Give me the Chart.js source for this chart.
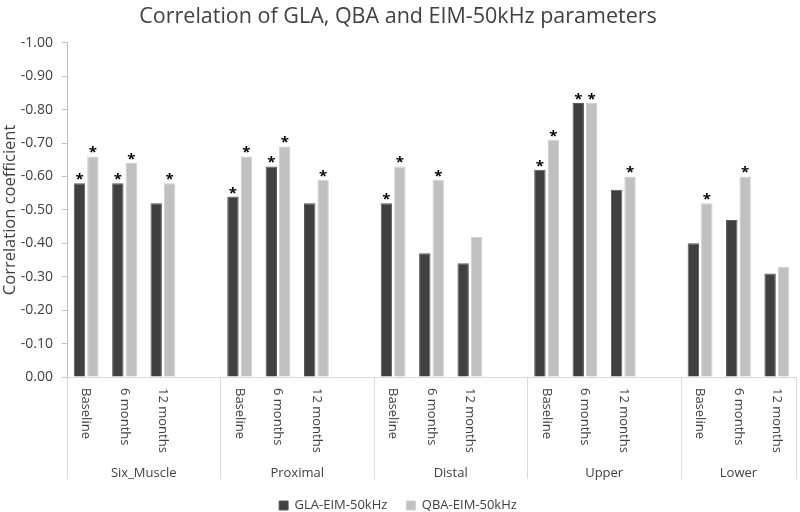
<!DOCTYPE html>
<html>
<head>
<meta charset="utf-8">
<script src="https://cdn.jsdelivr.net/npm/chart.js@4.4.1/dist/chart.umd.min.js"></script>
<style>
html,body{margin:0;padding:0;background:#fff;}
#wrap{width:800px;height:512px;position:relative;}
</style>
</head>
<body>
<div id="wrap"><canvas id="c" width="800" height="512"></canvas></div>
<script>
const groups = ["Six_Muscle", "Proximal", "Distal", "Upper", "Lower"];
const timepoints = ["Baseline", "6 months", "12 months"];
const glaValues = [-0.58, -0.58, -0.52, -0.54, -0.63, -0.52, -0.52, -0.37, -0.34, -0.62, -0.82, -0.56, -0.40, -0.47, -0.31];
const qbaValues = [-0.66, -0.64, -0.58, -0.66, -0.69, -0.59, -0.63, -0.59, -0.42, -0.71, -0.82, -0.60, -0.52, -0.60, -0.33];
const glaSignificant = [1,1,0, 1,1,0, 1,0,0, 1,1,0, 0,0,0];
const qbaSignificant = [1,1,1, 1,1,1, 1,1,0, 1,1,1, 1,1,0];
const yTicks = [0, -0.1, -0.2, -0.3, -0.4, -0.5, -0.6, -0.7, -0.8, -0.9, -1.0];

// build category axis: 3 time points per group plus a blank spacer between groups
const labels = [], glaData = [], qbaData = [], glaStar = [], qbaStar = [], groupOf = [];
groups.forEach((g, gi) => {
  timepoints.forEach((t, ti) => {
    const k = gi * timepoints.length + ti;
    labels.push(t); glaData.push(glaValues[k]); qbaData.push(qbaValues[k]);
    glaStar.push(glaSignificant[k]); qbaStar.push(qbaSignificant[k]); groupOf.push(gi);
  });
  if (gi < groups.length - 1) {
    labels.push(""); glaData.push(null); qbaData.push(null);
    glaStar.push(0); qbaStar.push(0); groupOf.push(gi);
  }
});

const FONT = "'Open Sans', 'Liberation Sans', sans-serif";

const multiLevelAxis = {
  id: 'multiLevelAxis',
  afterDraw(chart) {
    const ctx = chart.ctx;
    const x = chart.scales.x;
    const area = chart.chartArea;
    const half = (x.getPixelForValue(1) - x.getPixelForValue(0)) / 2;
    ctx.save();
    // rotated time point labels
    ctx.fillStyle = '#404040';
    ctx.font = '13px ' + FONT;
    ctx.textAlign = 'left';
    ctx.textBaseline = 'middle';
    labels.forEach((lab, i) => {
      if (!lab) return;
      const px = x.getPixelForValue(i);
      ctx.save();
      ctx.translate(px, area.bottom + 11);
      ctx.rotate(Math.PI / 2);
      ctx.fillText(lab, 0, 0);
      ctx.restore();
    });
    // group separators and names
    ctx.strokeStyle = '#d9d9d9';
    ctx.lineWidth = 1;
    let start = 0;
    const bounds = [];
    for (let gi = 0; gi < groups.length; gi++) {
      let end = start;
      while (end + 1 < labels.length && groupOf[end + 1] === gi) end++;
      const left = x.getPixelForValue(start) - half;
      const right = x.getPixelForValue(end) + half;
      bounds.push(left);
      if (gi === groups.length - 1) bounds.push(right);
      ctx.font = '13px ' + FONT;
      ctx.textAlign = 'center';
      ctx.textBaseline = 'middle';
      ctx.fillText(groups[gi], (left + right) / 2, area.bottom + 96);
      start = end + 1;
    }
    bounds.forEach(b => {
      const bx = Math.round(b) + 0.5;
      ctx.beginPath();
      ctx.moveTo(bx, area.bottom);
      ctx.lineTo(bx, area.bottom + 102);
      ctx.stroke();
    });
    // significance asterisks
    ctx.fillStyle = '#000';
    ctx.font = 'bold 15px ' + FONT;
    ctx.textAlign = 'center';
    ctx.textBaseline = 'alphabetic';
    [glaStar, qbaStar].forEach((stars, di) => {
      const meta = chart.getDatasetMeta(di);
      meta.data.forEach((bar, i) => {
        if (!stars[i]) return;
        ctx.fillText('*', bar.x, bar.y + 1);
      });
    });
    ctx.restore();
  }
};

new Chart(document.getElementById('c'), {
  type: 'bar',
  data: {
    labels: labels,
    datasets: [
      { label: 'GLA-EIM-50kHz', data: glaData, backgroundColor: '#404040', borderColor: '#5a5a5a', borderWidth: 1 },
      { label: 'QBA-EIM-50kHz', data: qbaData, backgroundColor: '#c0c0c0', borderColor: '#d0d0d0', borderWidth: 1 }
    ]
  },
  options: {
    responsive: false,
    animation: false,
    devicePixelRatio: 1,
    layout: { padding: { left: 0, right: 4, top: 0, bottom: -10 } },
    datasets: { bar: { categoryPercentage: 0.7, barPercentage: 0.85 } },
    plugins: {
      title: {
        display: true,
        text: 'Correlation of GLA, QBA and EIM-50kHz parameters',
        color: '#404040',
        font: { family: FONT, size: 21.5, weight: 'normal' },
        padding: { top: 4, bottom: 13 }
      },
      legend: {
        position: 'bottom',
        labels: {
          color: '#404040',
          font: { family: FONT, size: 13 },
          boxWidth: 9, boxHeight: 9,
          padding: 19
        }
      },
      tooltip: { enabled: false }
    },
    scales: {
      x: {
        grid: { display: false },
        border: { color: '#d9d9d9' },
        ticks: { display: false },
        afterFit(s) { s.height = 103; }
      },
      y: {
        min: -1, max: 0, reverse: true,
        afterBuildTicks(s) { s.ticks = yTicks.map(v => ({ value: v })); },
        grid: { drawOnChartArea: false, drawTicks: true, tickLength: 5, color: '#bfbfbf' },
        border: { color: '#bfbfbf' },
        ticks: {
          color: '#404040',
          font: { family: FONT, size: 14 },
          padding: 9,
          callback: v => Number(v).toFixed(2)
        },
        title: {
          display: true, text: 'Correlation coefficient', color: '#404040',
          font: { family: FONT, size: 16.5 }, padding: { top: 0, bottom: 2 }
        },
        afterFit(s) { s.width = 67; }
      }
    }
  },
  plugins: [multiLevelAxis]
});
</script>
</body>
</html>
